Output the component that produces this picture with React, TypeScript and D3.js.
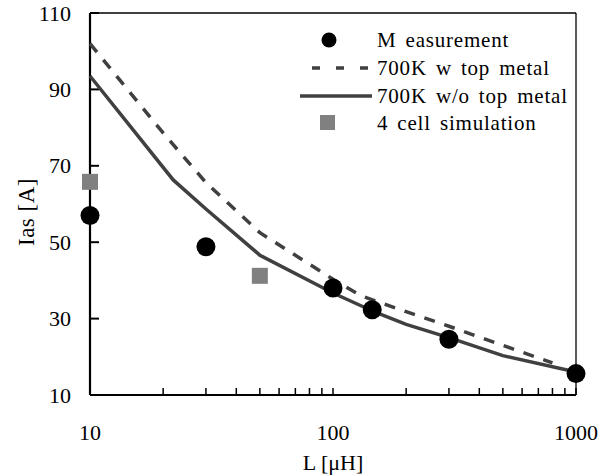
import { useEffect, useRef } from "react";
import * as d3 from "d3";

// measurement points
const measL = [10, 30, 100, 145, 300, 1000];
const measI = [57, 48.8, 38, 32.3, 24.6, 15.6];

// 700K w top metal (dashed)
const wL = [10, 20, 30, 50, 100, 130, 200, 300, 500, 800];
const wI = [102, 78.6, 65.6, 52.5, 40.3, 36, 31.8, 28, 23, 18.4];

// 700K w/o top metal (solid)
const woL = [10, 22, 30, 50, 100, 150, 200, 300, 500, 1000];
const woI = [93.5, 66.3, 58.7, 46.6, 36.7, 31.6, 28.5, 25, 20.3, 16];

// 4 cell simulation
const simL = [10, 50];
const simI = [65.8, 41.2];

const yTicks = [10, 30, 50, 70, 90, 110];
const xTicks = [10, 100, 1000];
const legendLabels = ["M easurement", "700K w top metal", "700K w/o top metal", "4 cell simulation"];

const W = 615;
const H = 475;
const margin = { top: 13, right: 39, bottom: 80, left: 90 };
const FONT = "Liberation Serif";

export default function App() {
  const svgRef = useRef<SVGSVGElement>(null);

  useEffect(() => {
    if (!svgRef.current) return;
    const svg = d3.select(svgRef.current);
    svg.selectAll("*").remove();

    const x0 = margin.left;
    const x1 = W - margin.right;
    const y0 = margin.top;
    const y1 = H - margin.bottom;

    const x = d3.scaleLog().domain([10, 1000]).range([x0, x1]);
    const y = d3.scaleLinear().domain([10, 110]).range([y1, y0]);

    // frame (top/right thin)
    svg.append("line").attr("x1", x0).attr("x2", x1).attr("y1", y0).attr("y2", y0)
      .attr("stroke", "#000").attr("stroke-width", 1.3);
    svg.append("line").attr("x1", x1).attr("x2", x1).attr("y1", y0).attr("y2", y1)
      .attr("stroke", "#000").attr("stroke-width", 1.3);

    // y ticks (inward)
    yTicks.forEach((t) => {
      svg.append("line").attr("x1", x0).attr("x2", x0 + 9)
        .attr("y1", y(t)).attr("y2", y(t)).attr("stroke", "#000").attr("stroke-width", 2);
      svg.append("text").attr("x", x0 - 19).attr("y", y(t))
        .attr("text-anchor", "end").attr("dominant-baseline", "central")
        .attr("font-family", FONT).attr("font-size", 22).text(t);
    });

    // x ticks (minor + major, inward)
    const allX: number[] = [];
    for (let dec = 10; dec < 1000; dec *= 10) {
      for (let m = 1; m <= 9; m++) allX.push(dec * m);
    }
    allX.push(1000);
    allX.forEach((t) => {
      svg.append("line").attr("x1", x(t)).attr("x2", x(t))
        .attr("y1", y1).attr("y2", y1 - 7).attr("stroke", "#000").attr("stroke-width", 1.5);
    });
    xTicks.forEach((t) => {
      svg.append("text").attr("x", x(t)).attr("y", y1 + 45)
        .attr("text-anchor", "middle").attr("font-family", FONT).attr("font-size", 22).text(t);
    });

    // axes lines
    svg.append("line").attr("x1", x0).attr("x2", x0).attr("y1", y0).attr("y2", y1)
      .attr("stroke", "#000").attr("stroke-width", 2.2);
    svg.append("line").attr("x1", x0).attr("x2", x1).attr("y1", y1).attr("y2", y1)
      .attr("stroke", "#000").attr("stroke-width", 2.2);

    // axis titles
    svg.append("text").attr("x", (x0 + x1) / 2).attr("y", H - 5)
      .attr("text-anchor", "middle").attr("font-family", FONT).attr("font-size", 22)
      .text("L [μH]");
    svg.append("text").attr("transform", `translate(34,212) rotate(-90)`)
      .attr("text-anchor", "middle").attr("font-family", FONT).attr("font-size", 23)
      .attr("letter-spacing", 0.5).text("Ias [A]");

    const lineGen = d3.line<[number, number]>().x((d) => x(d[0])).y((d) => y(d[1]));

    svg.append("path").attr("d", lineGen(wL.map((l, i) => [l, wI[i]]) as [number, number][]))
      .attr("fill", "none").attr("stroke", "#404040").attr("stroke-width", 3.5)
      .attr("stroke-dasharray", "11,10");
    svg.append("path").attr("d", lineGen(woL.map((l, i) => [l, woI[i]]) as [number, number][]))
      .attr("fill", "none").attr("stroke", "#404040").attr("stroke-width", 3.5);

    simL.forEach((l, i) => {
      svg.append("rect").attr("x", x(l) - 8).attr("y", y(simI[i]) - 8)
        .attr("width", 16).attr("height", 16).attr("fill", "#808080");
    });
    measL.forEach((l, i) => {
      svg.append("circle").attr("cx", x(l)).attr("cy", y(measI[i])).attr("r", 9.5).attr("fill", "#000");
    });

    // legend
    const lg = svg.append("g");
    const rows = [40, 68, 96, 123];
    lg.append("circle").attr("cx", 329).attr("cy", rows[0]).attr("r", 7.5).attr("fill", "#000");
    lg.append("line").attr("x1", 312).attr("x2", 372).attr("y1", rows[1]).attr("y2", rows[1])
      .attr("stroke", "#404040").attr("stroke-width", 3.5).attr("stroke-dasharray", "8,16");
    lg.append("line").attr("x1", 300).attr("x2", 372).attr("y1", rows[2]).attr("y2", rows[2])
      .attr("stroke", "#404040").attr("stroke-width", 3.5);
    lg.append("rect").attr("x", 320).attr("y", rows[3] - 8).attr("width", 15).attr("height", 15)
      .attr("fill", "#808080");
    legendLabels.forEach((t, i) => {
      lg.append("text").attr("x", 377).attr("y", rows[i]).attr("dominant-baseline", "central")
        .attr("font-family", FONT).attr("font-size", 21).attr("word-spacing", 3)
        .attr("letter-spacing", 0.8).text(t);
    });
  }, []);

  return (
    <svg ref={svgRef} width={W} height={H}
      style={{ position: "absolute", left: 0, top: 0, background: "#fff" }} />
  );
}
